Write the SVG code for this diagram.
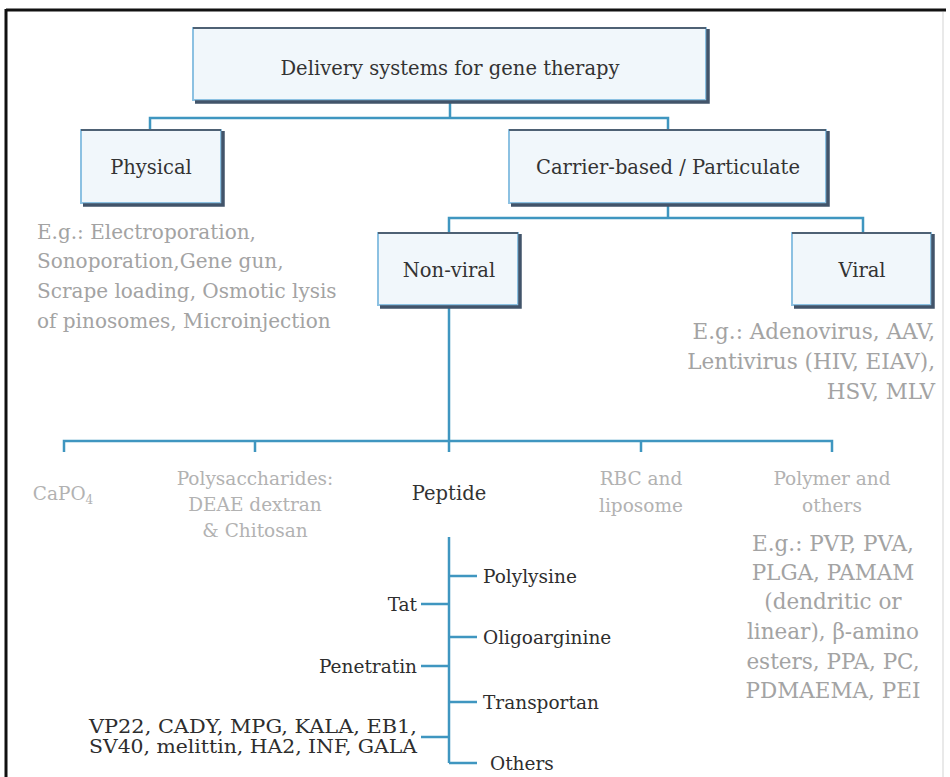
<svg xmlns="http://www.w3.org/2000/svg" width="950" height="777" viewBox="0 0 950 777">
  <style>
    .box { fill: #f1f7fb; stroke: #8cc1e2; stroke-width: 2; }
    .edge { fill: none; stroke: #4e6174; stroke-width: 2; }
    .shade { fill: none; stroke: #42546a; stroke-width: 3.5; }
    .label { font-family: "DejaVu Serif", "Liberation Serif", serif; font-size: 19.5px; fill: #333; text-anchor: middle; }
    .note { font-family: "DejaVu Serif", "Liberation Serif", serif; font-size: 20px; fill: #a3a3a3; }
    .note-lg { font-family: "DejaVu Serif", "Liberation Serif", serif; font-size: 21.5px; fill: #a3a3a3; }
    .faint { font-family: "DejaVu Serif", "Liberation Serif", serif; font-size: 18.5px; fill: #b2b2b2; text-anchor: middle; }
    .pep { font-family: "DejaVu Serif", "Liberation Serif", serif; font-size: 18.5px; fill: #2e2e2e; }
    .pep-sm { font-family: "DejaVu Serif", "Liberation Serif", serif; font-size: 18px; fill: #2e2e2e; text-anchor: end; }
    .wire { fill: none; stroke: #3f96c0; stroke-width: 2.5; }
  </style>

  <rect width="950" height="777" fill="#ffffff"/>

  <!-- outer frame -->
  <g id="frame">
    <line x1="6" y1="10" x2="946" y2="10" stroke="#111" stroke-width="3"/>
    <line x1="6" y1="9" x2="6" y2="777" stroke="#111" stroke-width="3"/>
    <line x1="943" y1="12" x2="943" y2="777" stroke="#e2e2e2" stroke-width="1.5"/>
  </g>

  <!-- connectors -->
  <g id="connectors" class="wire">
    <path d="M450 101 V118 M150 130 V118 H668 V130"/>
    <path d="M668 204 V218 M449 233 V218 H863 V233"/>
    <path d="M449 306 V441 M64 452 V441 H832 V452 M255 441 V452 M641 441 V452 M449 441 V452"/>
    <path d="M449 537 V763"/>
    <path d="M449 576 H477 M449 637 H477 M449 702 H477 M449 763 H477"/>
    <path d="M421 604 H449 M421 666 H449 M421 737 H449"/>
  </g>

  <!-- root node -->
  <g id="root">
    <rect class="box" x="193" y="28" width="513" height="72"/>
    <path class="edge" d="M193 28 H706"/>
    <path class="shade" d="M708 29 V102 H195"/>
    <text class="label" x="450" y="75">Delivery systems for gene therapy</text>
  </g>

  <g id="physical">
    <rect class="box" x="81" y="130" width="140" height="73"/>
    <path class="edge" d="M81 130 H221"/>
    <path class="shade" d="M223 131 V205 H83"/>
    <text class="label" x="151" y="174">Physical</text>
    <text class="note" x="37" y="239">E.g.: Electroporation,</text>
    <text class="note" x="37" y="268">Sonoporation,Gene gun,</text>
    <text class="note" x="37" y="298">Scrape loading, Osmotic lysis</text>
    <text class="note" x="37" y="328">of pinosomes, Microinjection</text>
  </g>

  <g id="carrier">
    <rect class="box" x="509" y="130" width="317" height="73"/>
    <path class="edge" d="M509 130 H826"/>
    <path class="shade" d="M828 131 V205 H511"/>
    <text class="label" x="668" y="174">Carrier-based / Particulate</text>
  </g>

  <g id="nonviral">
    <rect class="box" x="378" y="233" width="140" height="72"/>
    <path class="edge" d="M378 233 H518"/>
    <path class="shade" d="M520 234 V307 H380"/>
    <text class="label" x="449" y="277">Non-viral</text>
  </g>

  <g id="viral">
    <rect class="box" x="792" y="233" width="139" height="72"/>
    <path class="edge" d="M792 233 H931"/>
    <path class="shade" d="M933 234 V307 H794"/>
    <text class="label" x="862" y="277">Viral</text>
    <text class="note-lg" x="935" y="339" text-anchor="end">E.g.: Adenovirus, AAV,</text>
    <text class="note-lg" x="935" y="369" text-anchor="end">Lentivirus (HIV, EIAV),</text>
    <text class="note-lg" x="935" y="399" text-anchor="end">HSV, MLV</text>
  </g>

  <g id="capo4">
    <text class="faint" x="63" y="500">CaPO<tspan font-size="12" dy="4">4</tspan></text>
  </g>

  <g id="polysaccharides">
    <text class="faint" x="255" y="485">Polysaccharides:</text>
    <text class="faint" x="255" y="511">DEAE dextran</text>
    <text class="faint" x="255" y="537">&amp; Chitosan</text>
  </g>

  <g id="peptide">
    <text class="label" x="449" y="500">Peptide</text>
    <text class="pep" x="483" y="583">Polylysine</text>
    <text class="pep" x="417" y="611" text-anchor="end">Tat</text>
    <text class="pep" x="483" y="644">Oligoarginine</text>
    <text class="pep" x="417" y="673" text-anchor="end">Penetratin</text>
    <text class="pep" x="483" y="709">Transportan</text>
    <text class="pep-sm" x="417" y="733" textLength="328" lengthAdjust="spacingAndGlyphs">VP22, CADY, MPG, KALA, EB1,</text>
    <text class="pep-sm" x="417" y="753" textLength="328" lengthAdjust="spacingAndGlyphs">SV40, melittin, HA2, INF, GALA</text>
    <text class="pep" x="490" y="770">Others</text>
  </g>

  <g id="rbc">
    <text class="faint" x="641" y="485">RBC and</text>
    <text class="faint" x="641" y="512">liposome</text>
  </g>

  <g id="polymer">
    <text class="faint" x="832" y="485">Polymer and</text>
    <text class="faint" x="832" y="512">others</text>
    <text class="note-lg" x="833" y="551" text-anchor="middle">E.g.: PVP, PVA,</text>
    <text class="note-lg" x="833" y="580" text-anchor="middle">PLGA, PAMAM</text>
    <text class="note-lg" x="833" y="609" text-anchor="middle">(dendritic or</text>
    <text class="note-lg" x="833" y="639" text-anchor="middle">linear), β-amino</text>
    <text class="note-lg" x="833" y="669" text-anchor="middle">esters, PPA, PC,</text>
    <text class="note-lg" x="833" y="698" text-anchor="middle">PDMAEMA, PEI</text>
  </g>
</svg>
